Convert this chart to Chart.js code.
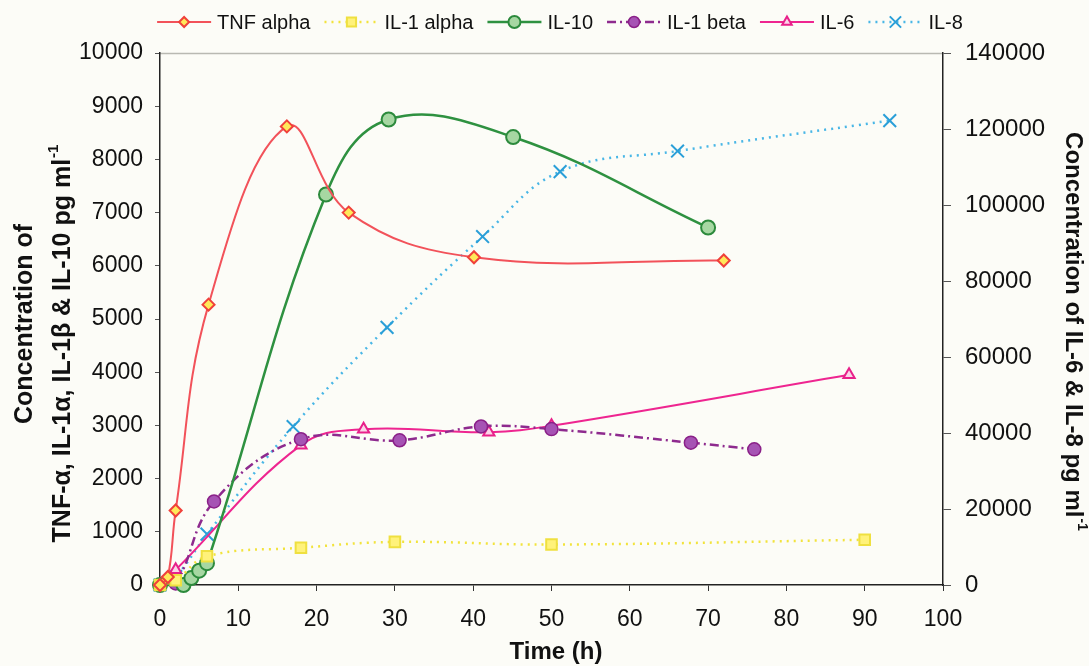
<!DOCTYPE html>
<html>
<head>
<meta charset="utf-8">
<script src="https://cdn.jsdelivr.net/npm/chart.js@4.4.1/dist/chart.umd.min.js"></script>
<style>
  html, body { margin: 0; padding: 0; background: #fcfcf7; }
  #wrap { width: 1089px; height: 666px; position: relative; }
</style>
</head>
<body>
<div id="wrap"><canvas id="cytokines"></canvas></div>
<script>
// time points (h) and concentrations
const tnfTime  = [0, 1, 2, 6.2, 16.2, 24.1, 40.1, 72];
const tnfVals  = [0, 150, 1400, 5270, 8620, 7000, 6160, 6100];

const il1aTime = [0, 2, 6, 18, 30, 50, 90];
const il1aVals = [0, 90, 540, 700, 810, 760, 850];

const il10Time = [0, 3, 4, 5, 6, 21.2, 29.2, 45.1, 70];
const il10Vals = [0, 0, 130, 270, 410, 7340, 8750, 8420, 6720];

const il1bTime = [0, 2, 6.9, 18, 30.6, 41, 50, 67.8, 75.9];
const il1bVals = [0, 30, 1570, 2740, 2720, 2980, 2930, 2675, 2550];

// right axis series
const il6Time  = [0, 2, 18, 26, 42, 50, 88];
const il6Vals  = [0, 4000, 36800, 41000, 40200, 41900, 55300];

const il8Time  = [0, 2, 6, 17, 29, 41.2, 51.1, 66.1, 93.2];
const il8Vals  = [0, 2200, 13400, 41700, 67800, 91700, 108800, 114200, 122200];

const FONT = '"Liberation Sans", Arial, Helvetica, sans-serif';
const pts = (ts, vs) => ts.map((t, i) => ({ x: t, y: vs[i] }));

const bgPlugin = {
  id: 'paper',
  beforeDraw(chart) {
    const { ctx, width, height } = chart;
    ctx.save();
    ctx.fillStyle = '#fcfcf7';
    ctx.fillRect(0, 0, width, height);
    const a = chart.chartArea;
    ctx.strokeStyle = '#b9b9b2';
    ctx.lineWidth = 1.5;
    ctx.beginPath();
    ctx.moveTo(a.left, a.top + 0.5);
    ctx.lineTo(a.right, a.top + 0.5);
    ctx.stroke();
    ctx.restore();
  }
};

// axis titles with a real superscript for ml-1
function drawTitle(ctx, x, y, rot, main, sup, size) {
  ctx.save();
  ctx.translate(x, y);
  ctx.rotate(rot);
  ctx.fillStyle = '#111';
  ctx.textBaseline = 'middle';
  ctx.textAlign = 'left';
  const big = 'bold ' + size + 'px ' + FONT;
  const small = 'bold ' + Math.round(size * 0.6) + 'px ' + FONT;
  ctx.font = big;
  const w1 = ctx.measureText(main).width;
  ctx.font = small;
  const w2 = sup ? ctx.measureText(sup).width : 0;
  const start = -(w1 + w2) / 2;
  ctx.font = big;
  ctx.fillText(main, start, 0);
  if (sup) {
    ctx.font = small;
    ctx.fillText(sup, start + w1 + 1, -size * 0.38);
  }
  ctx.restore();
}

const titlesPlugin = {
  id: 'axisTitles',
  afterDraw(chart) {
    const ctx = chart.ctx;
    drawTitle(ctx, 25, 324, -Math.PI / 2, 'Concentration of', '', 25);
    drawTitle(ctx, 63, 344, -Math.PI / 2, 'TNF-\u03b1, IL-1\u03b1, IL-1\u03b2 & IL-10 pg ml', '-1', 25);
    drawTitle(ctx, 1073, 331, Math.PI / 2, 'Concentration of IL-6 & IL-8 pg ml', '-1', 24);
    drawTitle(ctx, 556, 652, 0, 'Time (h)', '', 24);
  }
};

// excel-style legend: line segment with the marker in the middle
const legendPlugin = {
  id: 'lineLegend',
  afterDraw(chart) {
    const ctx = chart.ctx;
    ctx.save();
    ctx.font = '20px ' + FONT;
    ctx.textBaseline = 'middle';
    const seg = 54, gap = 6, sep = 14, y = 22;
    const items = chart.data.datasets.map(ds => ({ ds, w: ctx.measureText(ds.label).width }));
    const total = items.reduce((s, it) => s + seg + gap + it.w, 0) + sep * (items.length - 1);
    let x = 560 - total / 2;
    items.forEach(({ ds, w }) => {
      ctx.strokeStyle = ds.borderColor;
      ctx.lineWidth = ds.borderWidth;
      ctx.setLineDash(ds.borderDash || []);
      ctx.beginPath();
      ctx.moveTo(x, y);
      ctx.lineTo(x + seg, y);
      ctx.stroke();
      ctx.setLineDash([]);
      ctx.fillStyle = ds.pointBackgroundColor;
      ctx.strokeStyle = ds.pointBorderColor;
      ctx.lineWidth = ds.pointBorderWidth;
      Chart.helpers.drawPoint(ctx, { pointStyle: ds.pointStyle, radius: ds.pointRadius - 1, borderWidth: ds.pointBorderWidth, rotation: 0 }, x + seg / 2, y);
      ctx.fillStyle = '#111';
      ctx.fillText(ds.label, x + seg + gap, y + 1);
      x += seg + gap + w + sep;
    });
    ctx.restore();
  }
};

new Chart(document.getElementById('cytokines'), {
  type: 'line',
  data: {
    datasets: [
      { label: 'TNF alpha', data: pts(tnfTime, tnfVals), yAxisID: 'y',
        borderColor: '#f2525a', borderWidth: 2, tension: 0.4,
        pointStyle: 'rectRot', pointRadius: 6, pointBackgroundColor: '#ffe95a', pointBorderColor: '#f0403a', pointBorderWidth: 2 },
      { label: 'IL-1 alpha', data: pts(il1aTime, il1aVals), yAxisID: 'y',
        borderColor: '#f2e33c', borderWidth: 2.5, borderDash: [2, 5], tension: 0.4,
        pointStyle: 'rect', pointRadius: 7.5, pointBackgroundColor: '#fff27a', pointBorderColor: '#efe040', pointBorderWidth: 2 },
      { label: 'IL-10', data: pts(il10Time, il10Vals), yAxisID: 'y',
        borderColor: '#2e9140', borderWidth: 2.5, tension: 0.4,
        pointStyle: 'circle', pointRadius: 7, pointBackgroundColor: '#a6d7a2', pointBorderColor: '#2c8a3c', pointBorderWidth: 2 },
      { label: 'IL-1 beta', data: pts(il1bTime, il1bVals), yAxisID: 'y',
        borderColor: '#8e2a8e', borderWidth: 2.5, borderDash: [9, 4, 2, 4], tension: 0.4,
        pointStyle: 'circle', pointRadius: 6.5, pointBackgroundColor: '#a653b4', pointBorderColor: '#8a2088', pointBorderWidth: 1.5 },
      { label: 'IL-6', data: pts(il6Time, il6Vals), yAxisID: 'y2',
        borderColor: '#ee2590', borderWidth: 2, tension: 0.4,
        pointStyle: 'triangle', pointRadius: 6.5, pointBackgroundColor: '#fbd5e8', pointBorderColor: '#e8208a', pointBorderWidth: 2 },
      { label: 'IL-8', data: pts(il8Time, il8Vals), yAxisID: 'y2',
        borderColor: '#48b6e6', borderWidth: 2.5, borderDash: [2, 5], tension: 0.4,
        pointStyle: 'crossRot', pointRadius: 9, pointBackgroundColor: '#2a9fd8', pointBorderColor: '#2a9fd8', pointBorderWidth: 2 }
    ]
  },
  options: {
    responsive: true, maintainAspectRatio: false, animation: false,
    layout: { padding: { top: 53, left: 0, right: 0, bottom: 0 } },
    datasets: { line: { clip: false, fill: false } },
    plugins: { legend: { display: false }, tooltip: { enabled: false } },
    scales: {
      x: {
        type: 'linear', min: 0, max: 100,
        afterFit: s => { s.height = 81; },
        ticks: { stepSize: 10, color: '#111', padding: 15, font: { family: FONT, size: 23 } },
        grid: { drawOnChartArea: false, tickLength: 6, color: '#333' },
        border: { color: '#222', width: 1.5 }
      },
      y: {
        position: 'left', min: 0, max: 10000,
        afterFit: s => { s.width = 160; },
        ticks: { stepSize: 1000, color: '#111', padding: 12, font: { family: FONT, size: 23 }, callback: v => String(v) },
        grid: { drawOnChartArea: false, tickLength: 5, color: '#555' },
        border: { color: '#222', width: 1.5 }
      },
      y2: {
        position: 'right', min: 0, max: 140000,
        afterFit: s => { s.width = 146; },
        ticks: { stepSize: 20000, color: '#111', padding: 14, font: { family: FONT, size: 24 }, callback: v => String(v) },
        grid: { drawOnChartArea: false, tickLength: 8, color: '#555' },
        border: { color: '#222', width: 1.5 }
      }
    }
  },
  plugins: [bgPlugin, legendPlugin, titlesPlugin]
});
</script>
</body>
</html>
